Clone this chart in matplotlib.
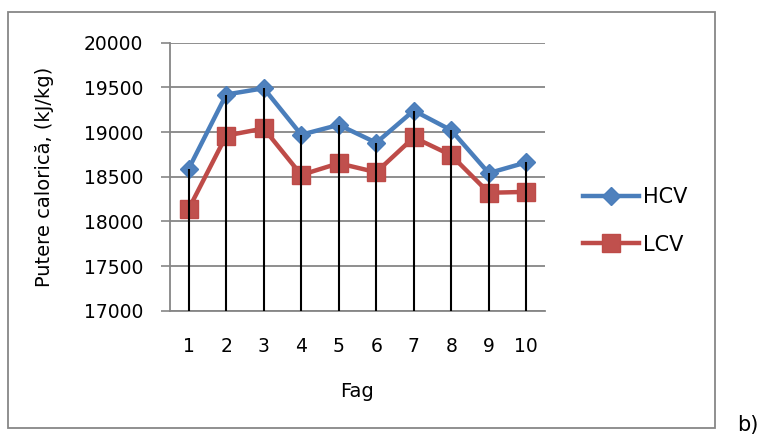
import matplotlib
matplotlib.use("Agg")
import matplotlib.pyplot as plt
from matplotlib.patches import Rectangle

# Calorific values for beech samples (kJ/kg)
samples = [1, 2, 3, 4, 5, 6, 7, 8, 9, 10]
hcv = [18590, 19420, 19490, 18970, 19080, 18880, 19240, 19020, 18540, 18660]
lcv = [18140, 18960, 19040, 18520, 18650, 18550, 18940, 18740, 18320, 18330]
y_ticks = [17000, 17500, 18000, 18500, 19000, 19500, 20000]

plt.rcParams["font.family"] = ["DejaVu Sans"]

fig = plt.figure(figsize=(7.59, 4.34), dpi=100)
ax = fig.add_axes([170 / 759, 1 - 310.7 / 434, 375 / 759, 268 / 434])

grid_col = "#868686"

ax.plot(samples, hcv, color="#4A7EBB", lw=3.2, marker="D", markersize=9.2,
        markerfacecolor="#4F81BD", markeredgecolor="#4A7EBB", label="HCV", zorder=3)
ax.plot(samples, lcv, color="#BE4B48", lw=3.2, marker="s", markersize=13,
        markerfacecolor="#C0504D", markeredgecolor="#BE4B48", label="LCV", zorder=3)

# drop lines from the highest point of each category to the axis
tops = [max(a, b) for a, b in zip(hcv, lcv)]
ax.vlines(samples, y_ticks[0], tops, color="black", lw=1.5, zorder=4)

ax.set_xlim(0.5, 10.5)
ax.set_ylim(y_ticks[0], y_ticks[-1])
ax.set_yticks(y_ticks)
ax.set_yticklabels([str(v) for v in y_ticks])
ax.set_xticks(samples)
ax.set_xticklabels([str(s) for s in samples])

ax.yaxis.grid(True, color=grid_col, lw=1.3, zorder=0)
ax.set_axisbelow(True)
for side in ("top", "right"):
    ax.spines[side].set_visible(False)
for side in ("left", "bottom"):
    ax.spines[side].set_color(grid_col)
    ax.spines[side].set_linewidth(1.3)

ax.tick_params(axis="y", direction="out", length=6.5, width=1.2, color=grid_col,
               pad=13, labelsize=13.5)
ax.tick_params(axis="x", length=0, pad=19, labelsize=13.5)

ax.set_xlabel("Fag", fontsize=14)
ax.xaxis.set_label_coords(0.5, -0.302)
ax.xaxis.label.set_va("center")
ax.set_ylabel("Putere calorică, (kJ/kg)", fontsize=14)
ax.yaxis.set_label_coords((45 - 170) / 375, 0.5)
ax.yaxis.label.set_va("center")

fig.legend(loc="center left", bbox_to_anchor=(583 / 759, 1 - 221 / 434),
           frameon=False, fontsize=15, handlelength=2.7, handletextpad=0.2,
           labelspacing=1.3, borderpad=0, borderaxespad=0)

# outer chart border
fig.patches.append(Rectangle((8 / 759, 1 - 428 / 434), 707 / 759, 416 / 434,
                             transform=fig.transFigure, fill=False,
                             edgecolor="#878787", lw=1.3))

fig.text(737 / 759, 1 - 431 / 434, "b)", fontsize=15, va="baseline", ha="left")

fig.savefig("out.png", dpi=100)
